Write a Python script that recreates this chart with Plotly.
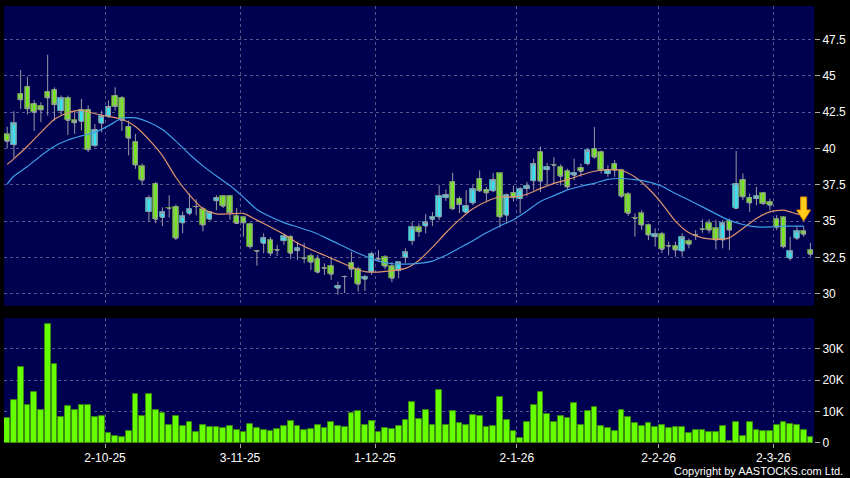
import plotly.graph_objects as go

# ---------------- data ----------------
open_ = [40.96, 40.25, 43.75, 44.25, 43.08, 42.9, 43.9, 44.03, 42.6, 43.47,
         41.92, 41.85, 42.67, 40.19, 41.73, 42.21, 43.63, 43.47, 41.5, 40.45,
         38.77, 35.66, 37.58, 35.25, 35.87, 35.99, 34.88, 35.53, 36.0, 35.8,
         35.13, 36.4, 36.73, 36.73, 35.34, 35.25, 34.79, 32.95, 33.47, 33.7,
         33.01, 33.65, 33.93, 32.97, 32.44, 32.6, 32.4, 31.76, 31.92, 30.39,
         31.19, 32.14, 31.69, 31.0, 31.53, 32.4, 32.51, 31.89, 31.6, 32.51,
         33.65, 34.57, 34.66, 35.12, 35.29, 36.62, 37.7, 36.55, 35.6, 36.25,
         37.93, 37.17, 37.08, 38.28, 35.41, 36.96, 36.55, 37.24, 37.77, 39.75,
         38.54, 38.84, 38.72, 38.45, 38.15, 38.68, 38.95, 39.98, 39.75, 38.27,
         38.95, 38.5, 36.85, 35.19, 35.53, 34.73, 33.93, 34.11, 33.29, 33.29,
         32.95, 33.63, 34.04, 34.43, 34.85, 34.5, 33.7, 35.03, 35.87, 37.86,
         36.62, 36.55, 36.94, 36.32, 35.14, 35.25, 32.44, 33.82, 34.32, 33.01]
high = [41.5, 42.55, 45.39, 44.93, 43.34, 43.17, 46.44, 44.2, 43.63, 43.63,
        42.6, 43.4, 42.95, 41.68, 42.6, 43.3, 44.2, 43.6, 41.92, 41.0,
        38.95, 36.78, 37.7, 35.94, 36.78, 36.14, 35.66, 36.9, 36.5, 36.0,
        35.7, 36.78, 36.78, 36.78, 35.9, 35.34, 34.9, 33.01, 34.16, 33.9,
        33.36, 34.04, 34.04, 33.58, 33.5, 32.79, 32.67, 32.1, 32.56, 30.84,
        31.26, 32.9, 31.87, 31.3, 32.9, 33.0, 32.67, 32.2, 32.23, 33.13,
        34.95, 34.84, 35.48, 35.63, 37.47, 37.17, 38.32, 36.7, 37.12, 37.5,
        38.49, 37.35, 38.3, 38.32, 36.9, 37.45, 37.35, 37.7, 39.3, 40.14,
        39.0, 39.4, 38.9, 38.6, 39.29, 38.95, 39.98, 41.47, 39.86, 38.84,
        39.2, 38.6, 37.0, 35.53, 35.75, 34.84, 34.5, 34.27, 33.6, 33.58,
        34.16, 33.8, 34.38, 35.12, 35.12, 35.07, 35.07, 35.18, 39.82, 38.27,
        36.9, 37.35, 37.0, 36.55, 35.41, 35.34, 33.93, 34.66, 34.66, 33.5]
low = [40.0, 39.36, 42.72, 42.33, 41.2, 41.8, 42.26, 41.9, 42.26, 40.93,
       41.0, 41.23, 39.75, 40.1, 41.1, 42.1, 42.6, 41.2, 39.52, 38.6,
       37.47, 34.95, 34.86, 34.66, 35.25, 33.7, 34.16, 35.41, 35.4, 34.3,
       35.05, 35.75, 35.9, 35.1, 34.8, 33.93, 33.1, 31.94, 32.79, 32.6,
       32.6, 33.36, 32.38, 32.33, 32.1, 31.64, 31.4, 31.3, 30.96, 29.93,
       30.05, 31.14, 30.16, 30.2, 31.3, 32.2, 31.7, 30.8, 31.07, 32.1,
       33.36, 33.93, 34.16, 34.66, 35.07, 36.4, 35.75, 35.55, 35.48, 36.1,
       37.0, 36.3, 37.0, 34.57, 34.84, 36.35, 35.53, 36.7, 37.1, 37.0,
       37.47, 37.53, 37.45, 37.2, 37.81, 38.05, 38.84, 39.29, 38.27, 38.05,
       38.05, 36.6, 35.35, 33.93, 34.4, 33.7, 33.25, 32.8, 32.65, 32.55,
       32.55, 33.13, 33.7, 34.2, 34.16, 33.06, 33.13, 33.01, 35.87, 36.44,
       35.64, 36.1, 36.1, 35.75, 34.38, 33.13, 32.28, 33.7, 33.93, 32.55]
close = [40.48, 41.73, 43.34, 42.72, 42.47, 42.65, 43.47, 43.01, 43.47, 41.92,
         41.76, 42.65, 39.91, 41.28, 42.21, 42.88, 42.88, 41.92, 40.7, 38.86,
         37.81, 36.62, 35.13, 35.6, 35.87, 33.82, 35.34, 35.82, 36.0, 34.73,
         35.6, 36.62, 36.03, 35.58, 34.84, 34.88, 33.24, 32.95, 33.86, 32.79,
         33.01, 33.97, 32.79, 33.13, 32.44, 32.17, 31.49, 31.76, 31.35, 30.57,
         31.19, 31.69, 30.66, 31.19, 32.74, 32.4, 31.89, 31.07, 32.16, 32.85,
         34.57, 34.27, 34.91, 35.29, 36.73, 36.83, 35.85, 36.14, 36.06, 37.21,
         37.08, 36.94, 37.86, 35.29, 36.78, 36.62, 37.19, 37.4, 38.95, 37.74,
         38.72, 38.84, 38.08, 37.35, 38.32, 38.42, 39.86, 39.4, 38.5, 38.54,
         38.5, 36.71, 35.53, 35.19, 34.73, 34.04, 34.09, 33.06, 33.29, 33.01,
         33.88, 33.4, 34.04, 34.43, 34.38, 33.7, 34.85, 34.38, 37.58, 36.67,
         36.25, 36.73, 36.21, 36.1, 34.57, 33.24, 32.95, 34.32, 34.09, 32.72]
volume = [7900, 13600, 24100, 11900, 16200, 10600, 37800, 25000, 8200, 11600,
          10300, 12200, 12100, 8200, 8500, 3100, 2300, 1800, 3700, 15500,
          8700, 15700, 10600, 9600, 5800, 8700, 5400, 6700, 3600, 5600,
          5100, 5200, 4700, 5400, 4000, 3600, 6100, 4600, 4200, 3700,
          4300, 5300, 7000, 5400, 4200, 4400, 5700, 4600, 6500, 5400,
          5200, 9600, 10200, 5800, 7000, 3600, 4600, 4300, 5300, 7200,
          12900, 7700, 10300, 5800, 16800, 5700, 10100, 6400, 5600, 9000,
          8500, 5100, 5300, 14500, 7400, 3700, 1700, 6700, 11900, 16100,
          9300, 6700, 8700, 7900, 12800, 5600, 10200, 11500, 5400, 4700,
          3800, 10500, 8200, 6200, 5400, 6300, 5200, 5800, 4700, 5200,
          5000, 3100, 4200, 4200, 3500, 3400, 5400, 700, 6800, 2300,
          6700, 4200, 3800, 3900, 5600, 6500, 6100, 5600, 4200, 2000]

# moving-average lines, read at these bar positions
ma_pos = [0] + list(range(1, 118, 2)) + [118]
ma_short = [38.9, 39.3, 40.15, 41.1, 42.0, 42.45, 42.63, 42.38, 42.2, 42.0,
            41.5, 40.6, 39.5, 38.0, 36.8, 35.85, 35.5, 35.5, 35.53, 35.07,
            34.6, 34.1, 33.5, 33.05, 32.65, 32.25, 31.85, 31.53, 31.5, 31.6,
            31.75, 32.3, 33.2, 34.2, 35.1, 35.85, 36.35, 36.66, 36.66, 36.85,
            37.25, 37.6, 37.85, 38.17, 38.43, 38.54, 38.5, 38.03, 37.24, 36.21,
            35.0, 34.2, 33.85, 33.75, 33.85, 34.5, 35.18, 35.64, 35.75, 35.5,
            35.41]
ma_long = [37.55, 38.1, 38.75, 39.5, 40.15, 40.58, 40.86, 41.1, 41.55, 42.07,
           42.1, 41.8, 41.3, 40.5, 39.6, 38.8, 38.1, 37.45, 36.65, 35.8,
           35.3, 34.9, 34.6, 34.3, 33.9, 33.45, 33.0, 32.6, 32.25, 32.07,
           32.05, 32.1, 32.25, 32.65, 33.15, 33.65, 34.2, 34.67, 35.1, 35.7,
           36.35, 36.75, 37.15, 37.4, 37.6, 37.87, 37.93, 37.85, 37.7, 37.4,
           36.9, 36.45, 35.98, 35.5, 35.05, 34.77, 34.6, 34.6, 34.66, 34.66,
           34.66]

month_start = [15, 35, 55, 76, 97, 114]
month_labels = ["2-10-25", "3-11-25", "1-12-25", "2-1-26", "2-2-26", "2-3-26"]
price_ticks = [30, 32.5, 35, 37.5, 40, 42.5, 45, 47.5]
vol_ticks = [0, 10000, 20000, 30000]
vol_labels = ["0", "10K", "20K", "30K"]

# ---------------- styling ----------------
BG = "#000050"
GRID = "#55558a"
UP = "#35e3f0"
DOWN = "#74e81c"
UP_EDGE = "#3a9aa8"
DOWN_EDGE = "#4d8a2a"
WICK = "#9a9aa8"
VOL = "#66ff00"
FONT = dict(family="Liberation Sans, Arial, sans-serif", size=12, color="#ffffff")

n = len(close)
xs = list(range(n))
body_base = [min(o, c) for o, c in zip(open_, close)]
body_h = [abs(c - o) for o, c in zip(open_, close)]
body_col = [UP if c > o else DOWN for o, c in zip(open_, close)]
body_edge = [UP_EDGE if c > o else DOWN_EDGE for o, c in zip(open_, close)]

fig = go.Figure()

fig.add_trace(go.Candlestick(
    x=xs, open=open_, high=high, low=low, close=close,
    increasing=dict(line=dict(color=WICK, width=1), fillcolor=UP),
    decreasing=dict(line=dict(color=WICK, width=1), fillcolor=DOWN),
    whiskerwidth=0, xaxis="x", yaxis="y", showlegend=False, hoverinfo="skip"))

fig.add_trace(go.Bar(
    x=xs, y=body_h, base=body_base, width=0.8,
    marker=dict(color=body_col, line=dict(color=body_edge, width=1)),
    xaxis="x", yaxis="y", showlegend=False, hoverinfo="skip"))

fig.add_trace(go.Scatter(
    x=ma_pos, y=ma_short, mode="lines",
    line=dict(color="#e0956e", width=1.2, shape="spline", smoothing=0.6),
    xaxis="x", yaxis="y", showlegend=False, hoverinfo="skip"))
fig.add_trace(go.Scatter(
    x=ma_pos, y=ma_long, mode="lines",
    line=dict(color="#3f9fe6", width=1.2, shape="spline", smoothing=0.6),
    xaxis="x", yaxis="y", showlegend=False, hoverinfo="skip"))

fig.add_trace(go.Bar(
    x=xs, y=volume, width=0.86,
    marker=dict(color=VOL, line=dict(color="#3c8c10", width=1)),
    xaxis="x2", yaxis="y2", showlegend=False, hoverinfo="skip"))

grid_x = [m - 0.5 for m in month_start]
xr = [-0.47, 119.53]

common_x = dict(range=xr, tickmode="array", tickvals=grid_x, showgrid=True,
                gridcolor=GRID, griddash="3px,3px", gridwidth=1, zeroline=False,
                showline=False, fixedrange=True)

fig.update_layout(
    width=850, height=478,
    margin=dict(l=4, r=36, t=6, b=35),
    paper_bgcolor="#000000", plot_bgcolor=BG,
    font=FONT, bargap=0, boxgap=0.2,
    xaxis=dict(**common_x, anchor="y", showticklabels=False, ticks="",
               rangeslider=dict(visible=False)),
    xaxis2=dict(**common_x, anchor="y2", ticktext=month_labels, ticks="outside",
                ticklen=4, tickcolor="#aaaaaa", showticklabels=True),
    yaxis=dict(domain=[0.314, 1.0], range=[29.18, 49.79], side="right",
               tickmode="array", tickvals=price_ticks, showgrid=True,
               gridcolor=GRID, griddash="3px,3px", zeroline=False, ticks="outside",
               ticklen=5, tickcolor="#aaaaaa", anchor="x", fixedrange=True),
    yaxis2=dict(domain=[0.0, 0.2858], range=[0, 39700], side="right",
                tickmode="array", tickvals=vol_ticks, ticktext=vol_labels,
                showgrid=True, gridcolor=GRID, griddash="3px,3px", zeroline=False,
                ticks="outside", ticklen=5, tickcolor="#aaaaaa", anchor="x2",
                fixedrange=True),
)

# signal arrow near the last moving-average point
fig.add_shape(type="path", xref="x", yref="y", xsizemode="pixel", ysizemode="pixel",
              xanchor=ma_pos[-1], yanchor=ma_short[-1] - 0.4,
              path="M -3,24 L 3,24 L 3,11 L 7,11 L 0,0 L -7,11 L -3,11 Z",
              fillcolor="#ffcc1a", line=dict(color="#e08a00", width=1))

fig.add_annotation(text="Copyright by AASTOCKS.com Ltd.", xref="paper", yref="paper",
                   x=1.038, y=-0.0645, xanchor="right", yanchor="middle", showarrow=False,
                   font=dict(family="Liberation Sans, Arial, sans-serif", size=11,
                             color="#ffffff"))

fig.write_html("out.html", config={"displayModeBar": False},
               post_script="document.body.style.margin='0';")
